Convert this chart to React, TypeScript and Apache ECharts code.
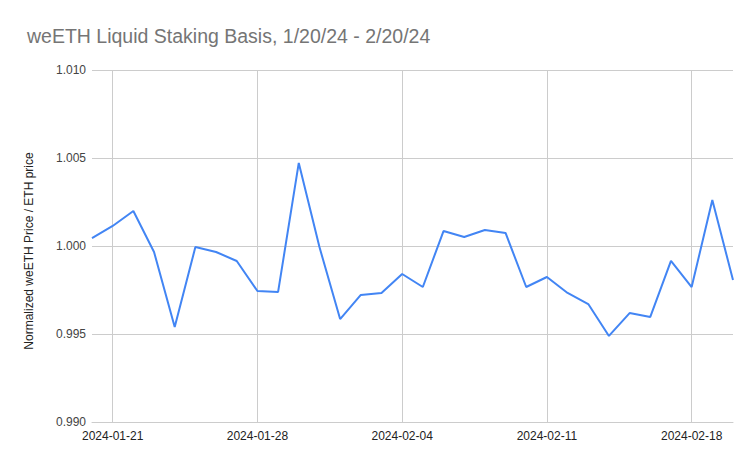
import React, { useEffect, useRef } from "react";
import * as echarts from "echarts";

const dates = [
  "2024-01-20", "2024-01-21", "2024-01-22", "2024-01-23", "2024-01-24", "2024-01-25",
  "2024-01-26", "2024-01-27", "2024-01-28", "2024-01-29", "2024-01-30", "2024-01-31",
  "2024-02-01", "2024-02-02", "2024-02-03", "2024-02-04", "2024-02-05", "2024-02-06",
  "2024-02-07", "2024-02-08", "2024-02-09", "2024-02-10", "2024-02-11", "2024-02-12",
  "2024-02-13", "2024-02-14", "2024-02-15", "2024-02-16", "2024-02-17", "2024-02-18",
  "2024-02-19", "2024-02-20",
];

const basis = [
  1.00045, 1.00114, 1.00199, 0.99966, 0.9954, 0.99994,
  0.99966, 0.99915, 0.99744, 0.99739, 1.00472, 0.99994,
  0.99585, 0.99722, 0.99733, 0.99841, 0.99767, 1.00085,
  1.00051, 1.00091, 1.00074, 0.99767, 0.99824, 0.99733,
  0.9967, 0.99489, 0.99619, 0.99597, 0.99915, 0.99767,
  1.00261, 0.99807,
];

const labelledDates = ["2024-01-21", "2024-01-28", "2024-02-04", "2024-02-11", "2024-02-18"];

const titleText = "weETH Liquid Staking Basis, 1/20/24 - 2/20/24";
const yAxisName = "Normalized weETH Price / ETH price";

export default function App() {
  const ref = useRef<HTMLDivElement>(null);
  useEffect(() => {
    if (!ref.current) return;
    const chart = echarts.init(ref.current, null, { renderer: "svg" });
    const showIdx = (i: number) => labelledDates.includes(dates[i]);
    chart.setOption({
      animation: false,
      backgroundColor: "#ffffff",
      title: {
        text: titleText,
        left: 22,
        top: 21,
        textStyle: {
          fontFamily: "Liberation Sans, Arial, sans-serif",
          fontSize: 19.5,
          fontWeight: "normal",
          color: "#757575",
        },
      },
      grid: { left: 92, right: 22, top: 70, bottom: 45, containLabel: false },
      xAxis: {
        type: "category",
        data: dates,
        boundaryGap: false,
        axisLine: { show: true, lineStyle: { color: "#cccccc", width: 1 } },
        axisTick: { show: false },
        axisLabel: {
          interval: (i: number) => showIdx(i),
          color: "#222222",
          fontFamily: "Liberation Sans, Arial, sans-serif",
          fontSize: 12,
          margin: 8,
        },
        splitLine: {
          show: true,
          interval: (i: number) => showIdx(i),
          lineStyle: { color: "#cccccc", width: 1 },
        },
      },
      yAxis: {
        type: "value",
        min: 0.99,
        max: 1.01,
        interval: 0.005,
        name: yAxisName,
        nameLocation: "middle",
        nameGap: 57,
        nameTextStyle: {
          fontFamily: "Liberation Sans, Arial, sans-serif",
          fontSize: 12,
          color: "#222222",
          padding: [0, 10, 0, 0],
        },
        axisLine: { show: false },
        axisTick: { show: false },
        axisLabel: {
          formatter: (v: number) => v.toFixed(3),
          color: "#444444",
          fontFamily: "Liberation Sans, Arial, sans-serif",
          fontSize: 12,
          margin: 6,
        },
        splitLine: { lineStyle: { color: "#cccccc", width: 1 } },
      },
      series: [
        {
          type: "line",
          data: basis,
          showSymbol: false,
          symbol: "none",
          lineStyle: { color: "#4285f4", width: 2 },
          itemStyle: { color: "#4285f4" },
        },
      ],
    });
    return () => chart.dispose();
  }, []);
  return (
    <div
      ref={ref}
      style={{ position: "absolute", left: 0, top: 0, width: 755, height: 467 }}
    />
  );
}
